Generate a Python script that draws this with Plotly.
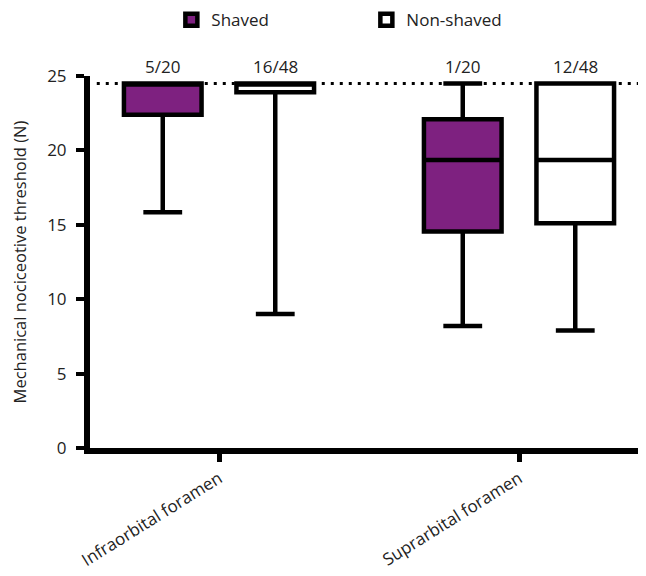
import plotly.graph_objects as go

categories = ["Infraorbital foramen", "Suprarbital foramen"]
series_names = ["Shaved", "Non-shaved"]

shaved_q1 = [22.4, 14.55]
shaved_median = [24.5, 19.35]
shaved_q3 = [24.5, 22.1]
shaved_lower = [15.85, 8.2]
shaved_upper = [24.5, 24.5]

nonshaved_q1 = [23.9, 15.1]
nonshaved_median = [24.5, 19.35]
nonshaved_q3 = [24.5, 24.5]
nonshaved_lower = [9.0, 7.9]
nonshaved_upper = [24.5, 24.5]

shaved_counts = ["5/20", "1/20"]
nonshaved_counts = ["16/48", "12/48"]

ceiling_value = 24.5
y_ticks = [0, 5, 10, 15, 20, 25]

PURPLE = "#7E2180"
FONT = "Open Sans"
TXT = "#222222"
BOXGAP = 0.25
BOXGROUPGAP = 0.31
LW = 4.5
FS = 17

fig = go.Figure()
fig.add_trace(go.Box(
    name=series_names[0], x=categories,
    q1=shaved_q1, median=shaved_median, q3=shaved_q3,
    lowerfence=shaved_lower, upperfence=shaved_upper,
    fillcolor=PURPLE, line=dict(color="black", width=LW),
    boxpoints=False, whiskerwidth=0.5, hoverinfo="skip",
))
fig.add_trace(go.Box(
    name=series_names[1], x=categories,
    q1=nonshaved_q1, median=nonshaved_median, q3=nonshaved_q3,
    lowerfence=nonshaved_lower, upperfence=nonshaved_upper,
    fillcolor="white", line=dict(color="black", width=LW),
    boxpoints=False, whiskerwidth=0.5, hoverinfo="skip",
))

# dotted ceiling line
fig.add_shape(type="line", xref="paper", yref="y", x0=0.012, x1=1.0,
              y0=ceiling_value, y1=ceiling_value,
              line=dict(color="black", width=3, dash="3px,6px"), layer="above")

slot = (1 - BOXGAP) / 2
offsets = [-slot / 2, slot / 2]
for s, counts in enumerate([shaved_counts, nonshaved_counts]):
    for i, t in enumerate(counts):
        fig.add_annotation(x=i + offsets[s], y=ceiling_value, xref="x", yref="y",
                           text=t, showarrow=False, yanchor="bottom", yshift=3,
                           font=dict(family=FONT, size=FS, color=TXT))

fig.update_layout(
    width=646, height=576,
    margin=dict(l=82, r=0, t=68, b=136),
    plot_bgcolor="white", paper_bgcolor="white",
    boxmode="group", boxgap=BOXGAP, boxgroupgap=BOXGROUPGAP,
    font=dict(family=FONT, size=FS, color=TXT),
    showlegend=True,
    legend=dict(orientation="h", x=0.49, xanchor="center", y=0.979, yanchor="middle",
                yref="container", font=dict(family=FONT, size=FS, color=TXT),
                entrywidth=150, itemwidth=30, traceorder="normal"),
    xaxis=dict(range=[-0.43, 1.45], showline=True, linecolor="black", linewidth=6,
               ticks="outside", ticklen=8, tickwidth=5, tickcolor="black",
               tickangle=-32, showgrid=False, zeroline=False,
               tickfont=dict(family=FONT, size=FS, color=TXT)),
    yaxis=dict(range=[0, 25], tickvals=y_ticks, showline=True, linecolor="black",
               linewidth=6, ticks="outside", ticklen=8, tickwidth=4, tickcolor="black",
               ticklabelstandoff=6, showgrid=False, zeroline=False,
               tickfont=dict(family=FONT, size=FS, color=TXT),
               title=dict(text="Mechanical nociceotive threshold (N)",
                          font=dict(family=FONT, size=16.5, color=TXT), standoff=24)),
)

fig.write_html("out.html")
